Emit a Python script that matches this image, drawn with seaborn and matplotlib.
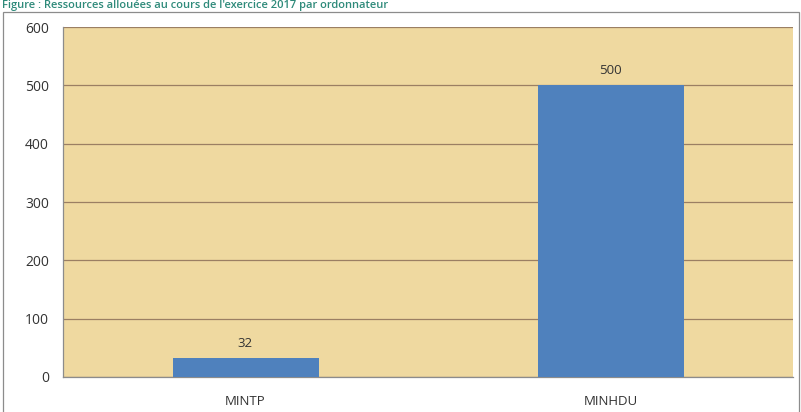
import matplotlib
matplotlib.use("Agg")
import matplotlib.pyplot as plt
import seaborn as sns
import pandas as pd
from matplotlib.patches import Rectangle

categories = ["MINTP", "MINHDU"]
values = [32, 500]
yticks = [0, 100, 200, 300, 400, 500, 600]
title = "Figure : Ressources allouées au cours de l'exercice 2017 par ordonnateur"

df = pd.DataFrame({"cat": categories, "val": values})

sns.set_style("white")
plt.rcParams['font.family'] = ['Open Sans', 'DejaVu Sans']

fig = plt.figure(figsize=(8.01, 4.12), dpi=100)
W, H = 801, 412
ax = fig.add_axes([63 / W, (H - 377) / H, (793 - 63) / W, (377 - 27) / H])

# outer chart border
fig.patches.append(Rectangle((3 / W, -0.01), (799 - 3) / W, (H - 12) / H + 0.01,
                             transform=fig.transFigure, fill=False,
                             edgecolor="#8c8c8c", linewidth=0.9))

ax.set_facecolor("#efd9a0")
sns.barplot(data=df, x="cat", y="val", ax=ax, color="#4f81bd", width=0.4,
            saturation=1, linewidth=0, zorder=3)

ax.set_ylim(0, 600)
ax.set_xlim(-0.5, 1.5)
ax.set_yticks(yticks)
ax.set_yticklabels([str(v) for v in yticks], fontsize=10, color="#333333")
ax.yaxis.grid(True, color="#9b7f63", linewidth=0.9, zorder=1)
ax.set_axisbelow(True)

ax.set_xticks([-0.5, 0.5, 1.5])
ax.set_xticklabels(["", "", ""])
ax.set_xticks([0, 1], minor=True)
ax.set_xticklabels(categories, minor=True, fontsize=9.5, color="#333333")
ax.tick_params(axis="x", which="major", length=5, color="#8c8c8c", direction="out")
ax.tick_params(axis="x", which="minor", length=0, pad=13)
ax.tick_params(axis="y", length=5, color="#8c8c8c", direction="out", pad=5)
ax.set_xlabel("")
ax.set_ylabel("")

for s in ["top", "right"]:
    ax.spines[s].set_visible(False)
for s in ["left", "bottom"]:
    ax.spines[s].set_color("#8c8c8c")
    ax.spines[s].set_linewidth(0.9)

for c in ax.containers:
    ax.bar_label(c, labels=[str(v) for v in values], padding=6, fontsize=9.5, color="#333333")

fig.text(2 / W, 1.0, title, ha="left", va="top", fontsize=8,
         color="#2e8a7a", fontweight="semibold")

fig.savefig("out.png", dpi=100, facecolor="white")
